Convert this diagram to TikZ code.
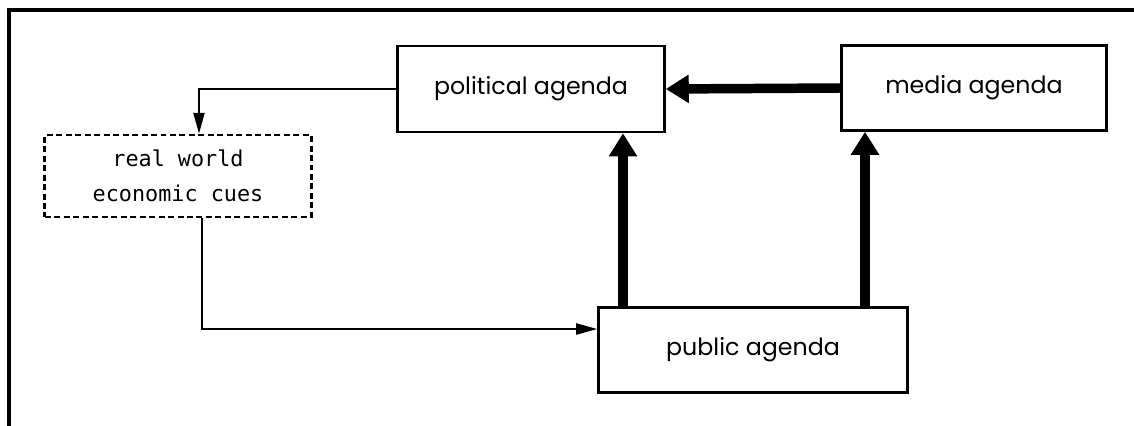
\documentclass[tikz,border=0pt]{standalone}
\usepackage{fontspec}
\setmainfont{Poppins}
\setmonofont{DejaVu Sans Mono}
\usetikzlibrary{arrows.meta}

\tikzset{
  agendabox/.style={draw, line width=1.5pt, minimum width=5.34cm, minimum height=1.72cm, font=\fontsize{13.5}{16}\selectfont},
  cuesbox/.style={draw, line width=1.4pt, dash pattern=on 0.12cm off 0.07cm, minimum width=5.34cm, minimum height=1.64cm, align=center, font=\ttfamily\fontsize{12.4}{20}\selectfont},
  thinarrow/.style={line width=1.2pt, -{Triangle[length=0.42cm, width=0.22cm]}},
  thickarrow/.style={line width=5.4pt, -{Triangle[length=0.46cm, width=0.54cm]}}
}

\begin{document}
\begin{tikzpicture}[x=0.02cm, y=-0.02cm]
                \useasboundingbox (0,0) rectangle (1134,426);
                \draw[line width=2.3pt] (9,426) -- (9,10) -- (1134,10);
                \node[agendabox] (political) at (531,89) {political agenda};
                \node[agendabox, minimum width=5.3cm, minimum height=1.7cm] (media) at (974,88) {media agenda};
                \node[cuesbox] (cues) at (178,176) {real world\\economic cues};
                \node[agendabox, minimum width=6.18cm, minimum height=1.7cm] (public) at (753,350) {public agenda};
                \coordinate (polfoot) at (623,89 |- political.south);
                \coordinate (medfoot) at (865,88 |- media.south);
                \draw[thinarrow] (political.west) -| ([xshift=0.42cm]cues.north);
                \draw[thinarrow] ([xshift=0.48cm]cues.south) |- ([yshift=0.42cm]public.west);
                \draw[thickarrow] (media.west) -- (political.east);
                \draw[thickarrow] (polfoot |- public.north) -- (polfoot);
                \draw[thickarrow] (medfoot |- public.north) -- (medfoot);
            \end{tikzpicture}
\end{document}
